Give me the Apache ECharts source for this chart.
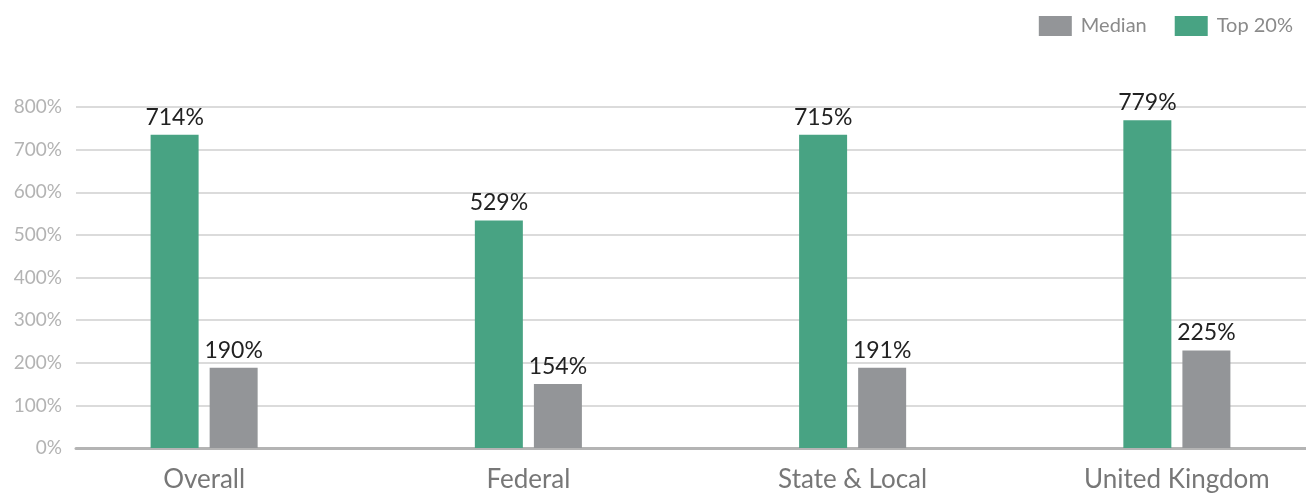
<!DOCTYPE html>
<html>
<head>
<meta charset="utf-8">
<script src="https://cdn.jsdelivr.net/npm/echarts@6/dist/echarts.min.js"></script>
<style>
html,body{margin:0;padding:0;background:#fff;}
#chart{width:1306px;height:493px;}
</style>
</head>
<body>
<div id="chart"></div>
<script>
var categories = ['Overall', 'Federal', 'State & Local', 'United Kingdom'];
// bar heights as drawn in the reference (percent)
var top20Values = [735, 534, 735, 769];
var medianValues = [188, 150, 188, 229];
// value labels printed above the bars
var top20Labels = ['714%', '529%', '715%', '779%'];
var medianLabels = ['190%', '154%', '191%', '225%'];
var yTicks = [0, 100, 200, 300, 400, 500, 600, 700, 800];

var FONT = 'Lato, "Noto Sans", sans-serif';
var chart = echarts.init(document.getElementById('chart'));
chart.setOption({
  animation: false,
  backgroundColor: '#fff',
  legend: {
    data: ['Median', 'Top 20%'],
    right: 8,
    top: 11,
    itemWidth: 33,
    itemHeight: 20,
    itemGap: 28,
    icon: 'rect',
    textStyle: { fontFamily: FONT, fontSize: 20, color: '#8a8a8a', padding: [0, 0, 0, 4] }
  },
  grid: [
    { left: 76, right: 0, top: 107, bottom: 45, outerBoundsMode: 'none' },
    { left: 42, width: 1297, top: 107, bottom: 45, outerBoundsMode: 'none' }
  ],
  xAxis: [
    {
      gridIndex: 0, type: 'value', min: 0, max: 1, show: true,
      axisLine: { show: true, onZero: false, lineStyle: { color: '#b4b4b4', width: 3 } },
      axisTick: { show: false }, axisLabel: { show: false }, splitLine: { show: false }
    },
    {
      gridIndex: 1, type: 'category', data: categories,
      axisLine: { show: false }, axisTick: { show: false },
      axisLabel: { margin: 19, fontFamily: FONT, fontSize: 26, color: '#777' }
    }
  ],
  yAxis: [
    {
      gridIndex: 0, type: 'value', min: yTicks[0], max: yTicks[yTicks.length - 1], interval: 100,
      axisLine: { show: false }, axisTick: { show: false },
      axisLabel: { margin: 14, fontFamily: FONT, fontSize: 19, color: '#b3b3b3', formatter: '{value}%' },
      splitLine: { lineStyle: { color: '#cfcfcf', width: 1.5 } }
    },
    {
      gridIndex: 1, type: 'value', min: yTicks[0], max: yTicks[yTicks.length - 1], show: false,
      splitLine: { show: false }
    }
  ],
  series: [
    {
      name: 'Top 20%', type: 'bar', xAxisIndex: 1, yAxisIndex: 1,
      data: top20Values, barWidth: 48, barGap: '23%',
      itemStyle: { color: '#48a383' },
      label: {
        show: true, position: 'top', distance: 6,
        fontFamily: FONT, fontSize: 23, color: '#222',
        formatter: function (p) { return top20Labels[p.dataIndex]; }
      }
    },
    {
      name: 'Median', type: 'bar', xAxisIndex: 1, yAxisIndex: 1,
      data: medianValues, barWidth: 48, barGap: '23%',
      itemStyle: { color: '#939598' },
      label: {
        show: true, position: 'top', distance: 6,
        fontFamily: FONT, fontSize: 23, color: '#222',
        formatter: function (p) { return medianLabels[p.dataIndex]; }
      }
    }
  ]
});
</script>
</body>
</html>
